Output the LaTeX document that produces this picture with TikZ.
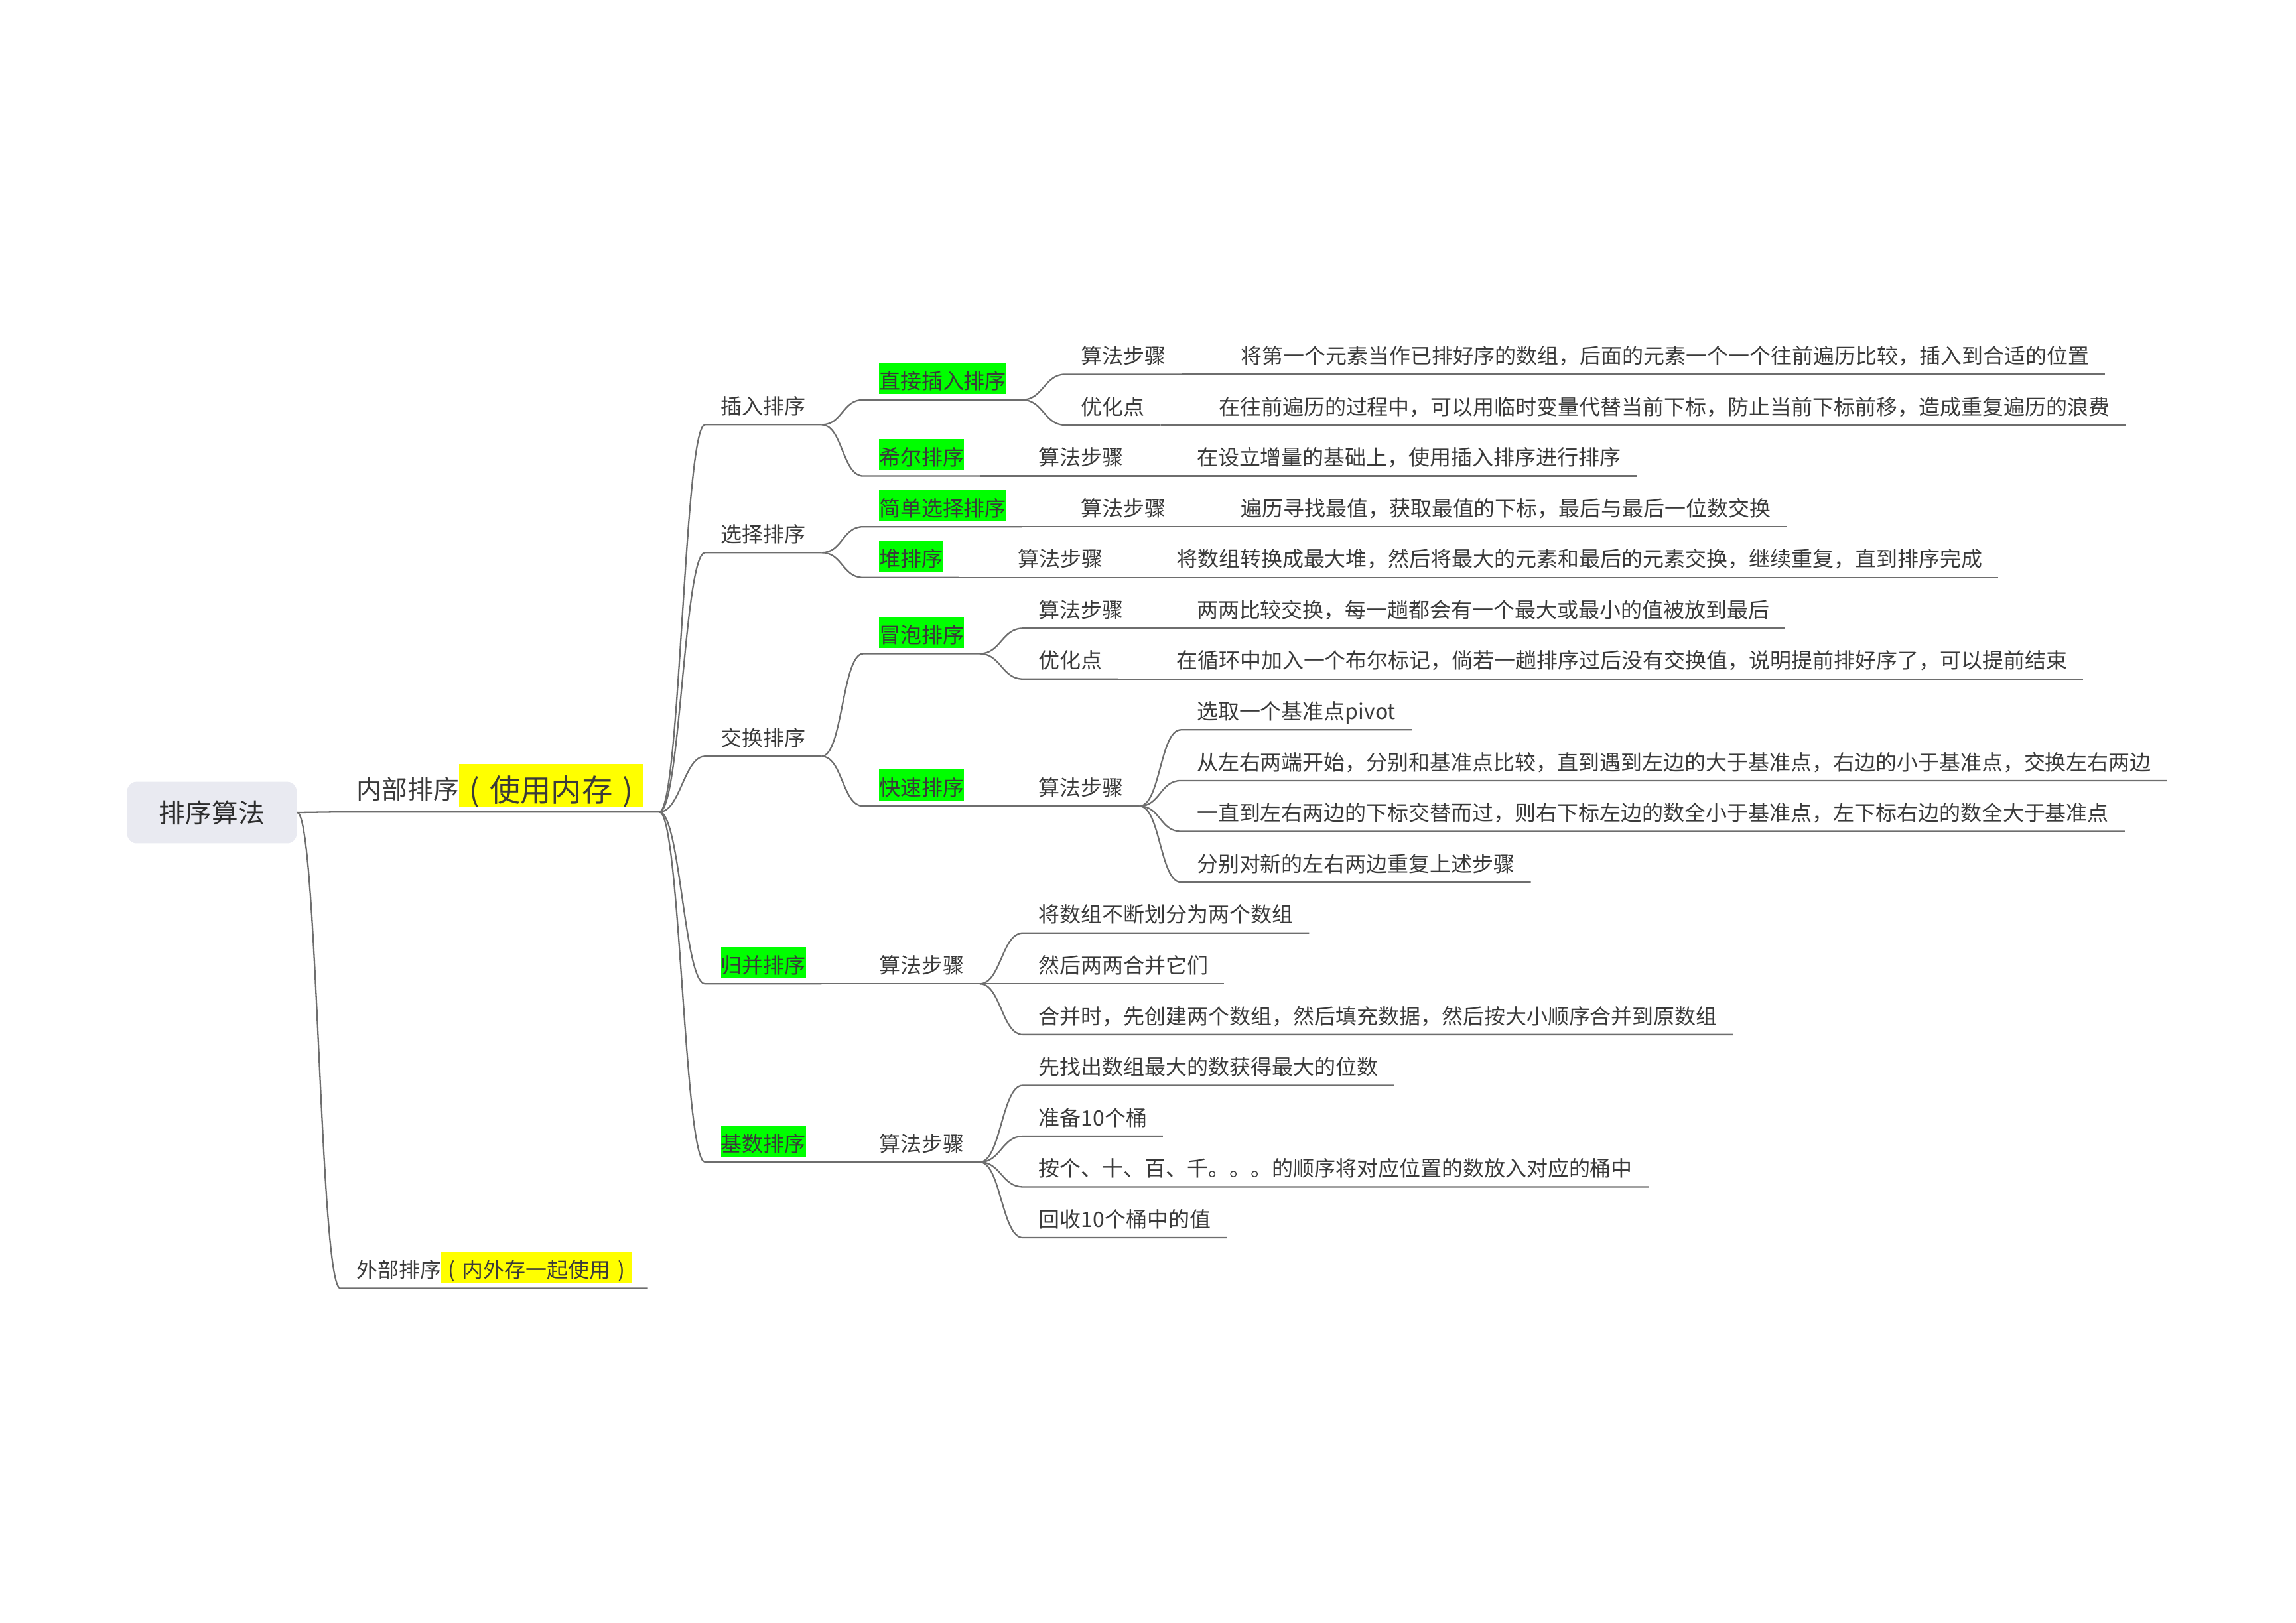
\documentclass[tikz,border=0pt]{standalone}
\usepackage{fontspec}
\setmainfont{Noto Sans CJK SC}

\definecolor{textgray}{RGB}{58,58,58}
\definecolor{linegray}{RGB}{110,110,110}
\definecolor{rootfill}{RGB}{233,234,241}
\definecolor{markgreen}{RGB}{0,255,0}
\definecolor{markyellow}{RGB}{255,255,0}

\newcommand{\leaffont}{\fontsize{9.1pt}{11pt}\selectfont}
\newcommand{\lparen}{\makebox[1em]{(}}
\newcommand{\rparen}{\makebox[1em]{)}}
\newcommand{\greenmark}[1]{{\setlength{\fboxsep}{0pt}\colorbox{markgreen}{\rule[-2.1pt]{0pt}{13.3pt}#1}}}
\newcommand{\yellowmark}[1]{{\setlength{\fboxsep}{0pt}\colorbox{markyellow}{\rule[-2.1pt]{0pt}{13.3pt}#1}}}
\newcommand{\bigyellowmark}[1]{{\setlength{\fboxsep}{0pt}\colorbox{markyellow}{\rule[-1.2pt]{0pt}{17.3pt}\fontsize{13.2pt}{16pt}\selectfont #1}}}

\tikzset{
	topic/.style={anchor=south west, inner xsep=6.6pt, inner ysep=0pt, text depth=4.3pt, font=\leaffont, text=textgray},
	root/.style={fill=rootfill, rounded corners=4pt, minimum width=72.7pt, minimum height=26.4pt, inner sep=0pt, font=\fontsize{11.3pt}{13pt}\selectfont, text=textgray!80!black},
	link/.style={draw=linegray, line width=0.65pt},
	branch/.style={out=0, in=180, distance=9pt}
}

\begin{document}
\begin{tikzpicture}[x=0.022074cm, y=-0.022074cm]
	\useasboundingbox (0,0) rectangle (1568,1108.6);

	% root
	\node[root] (root) at (144.7,555) {排序算法};

	% 内部排序, 外部排序
	\node[topic] (in) at (232.5,554.6) {\raisebox{1pt}{\fontsize{11pt}{13pt}\selectfont 内部排序}\bigyellowmark{\lparen 使用内存\rparen}};
	\node[topic] (ex) at (232.5,880.1) {外部排序\yellowmark{\lparen 内外存一起使用\rparen}};
	\draw[link] (root.east) -- (in.south west) -- (in.south east);
	\draw[link] (root.east) to[branch] (ex.south west) -- (ex.south east);

	% sorts
	\node[topic] (ins) at (481.5,290.1) {插入排序};
	\node[topic] (sel) at (481.5,377.5) {选择排序};
	\node[topic] (swp) at (481.5,516.6) {交换排序};
	\node[topic] (mrg) at (481.5,672.0) {\greenmark{归并排序}};
	\node[topic] (rad) at (481.5,793.8) {\greenmark{基数排序}};
	\draw[link] (in.south east) to[branch] (ins.south west) -- (ins.south east);
	\draw[link] (in.south east) to[branch] (sel.south west) -- (sel.south east);
	\draw[link] (in.south east) to[branch] (swp.south west) -- (swp.south east);
	\draw[link] (in.south east) to[branch] (mrg.south west) -- (mrg.south east);
	\draw[link] (in.south east) to[branch] (rad.south west) -- (rad.south east);

	% 插入排序
	\node[topic] (ins1) at (589.5,273.1) {\greenmark{直接插入排序}};
	\node[topic] (ins2) at (589.5,325.1) {\greenmark{希尔排序}};
	\draw[link] (ins.south east) to[branch] (ins1.south west) -- (ins1.south east);
	\draw[link] (ins.south east) to[branch] (ins2.south west) -- (ins2.south east);

	\node[topic] (ins1a) at (727.5,255.7) {算法步骤};
	\node[topic] (ins1b) at (727.5,290.4) {优化点};
	\node[topic] (ins1a1) at (836.5,255.7) {将第一个元素当作已排好序的数组，后面的元素一个一个往前遍历比较，插入到合适的位置};
	\node[topic] (ins1b1) at (821.5,290.4) {在往前遍历的过程中，可以用临时变量代替当前下标，防止当前下标前移，造成重复遍历的浪费};
	\draw[link] (ins1.south east) to[branch] (ins1a.south west) -- (ins1a.south east);
	\draw[link] (ins1.south east) to[branch] (ins1b.south west) -- (ins1b.south east);
	\draw[link] (ins1a.south east) to[branch] (ins1a1.south west) -- (ins1a1.south east);
	\draw[link] (ins1b.south east) to[branch] (ins1b1.south west) -- (ins1b1.south east);

	\node[topic] (ins2a) at (698.5,325.1) {算法步骤};
	\node[topic] (ins2a1) at (806.5,325.1) {在设立增量的基础上，使用插入排序进行排序};
	\draw[link] (ins2.south east) to[branch] (ins2a.south west) -- (ins2a.south east);
	\draw[link] (ins2a.south east) to[branch] (ins2a1.south west) -- (ins2a1.south east);

	% 选择排序
	\node[topic] (sel1) at (589.5,359.8) {\greenmark{简单选择排序}};
	\node[topic] (sel2) at (589.5,394.5) {\greenmark{堆排序}};
	\draw[link] (sel.south east) to[branch] (sel1.south west) -- (sel1.south east);
	\draw[link] (sel.south east) to[branch] (sel2.south west) -- (sel2.south east);

	\node[topic] (sel1a) at (727.5,359.8) {算法步骤};
	\node[topic] (sel1a1) at (836.5,359.8) {遍历寻找最值，获取最值的下标，最后与最后一位数交换};
	\draw[link] (sel1.south east) to[branch] (sel1a.south west) -- (sel1a.south east);
	\draw[link] (sel1a.south east) to[branch] (sel1a1.south west) -- (sel1a1.south east);

	\node[topic] (sel2a) at (684.5,394.5) {算法步骤};
	\node[topic] (sel2a1) at (792.5,394.5) {将数组转换成最大堆，然后将最大的元素和最后的元素交换，继续重复，直到排序完成};
	\draw[link] (sel2.south east) to[branch] (sel2a.south west) -- (sel2a.south east);
	\draw[link] (sel2a.south east) to[branch] (sel2a1.south west) -- (sel2a1.south east);

	% 交换排序
	\node[topic] (swp1) at (589.5,446.5) {\greenmark{冒泡排序}};
	\node[topic] (swp2) at (589.5,550.6) {\greenmark{快速排序}};
	\draw[link] (swp.south east) to[branch] (swp1.south west) -- (swp1.south east);
	\draw[link] (swp.south east) to[branch] (swp2.south west) -- (swp2.south east);

	\node[topic] (swp1a) at (698.5,429.2) {算法步骤};
	\node[topic] (swp1b) at (698.5,463.8) {优化点};
	\node[topic] (swp1a1) at (806.5,429.2) {两两比较交换，每一趟都会有一个最大或最小的值被放到最后};
	\node[topic] (swp1b1) at (792.5,463.8) {在循环中加入一个布尔标记，倘若一趟排序过后没有交换值，说明提前排好序了，可以提前结束};
	\draw[link] (swp1.south east) to[branch] (swp1a.south west) -- (swp1a.south east);
	\draw[link] (swp1.south east) to[branch] (swp1b.south west) -- (swp1b.south east);
	\draw[link] (swp1a.south east) to[branch] (swp1a1.south west) -- (swp1a1.south east);
	\draw[link] (swp1b.south east) to[branch] (swp1b1.south west) -- (swp1b1.south east);

	\node[topic] (swp2a) at (698.5,550.6) {算法步骤};
	\node[topic] (swp2a1) at (806.5,498.5) {选取一个基准点pivot};
	\node[topic] (swp2a2) at (806.5,533.2) {从左右两端开始，分别和基准点比较，直到遇到左边的大于基准点，右边的小于基准点，交换左右两边};
	\node[topic] (swp2a3) at (806.5,567.9) {一直到左右两边的下标交替而过，则右下标左边的数全小于基准点，左下标右边的数全大于基准点};
	\node[topic] (swp2a4) at (806.5,602.6) {分别对新的左右两边重复上述步骤};
	\draw[link] (swp2.south east) to[branch] (swp2a.south west) -- (swp2a.south east);
	\draw[link] (swp2a.south east) to[branch] (swp2a1.south west) -- (swp2a1.south east);
	\draw[link] (swp2a.south east) to[branch] (swp2a2.south west) -- (swp2a2.south east);
	\draw[link] (swp2a.south east) to[branch] (swp2a3.south west) -- (swp2a3.south east);
	\draw[link] (swp2a.south east) to[branch] (swp2a4.south west) -- (swp2a4.south east);

	% 归并排序
	\node[topic] (mrg1) at (589.5,672.0) {算法步骤};
	\node[topic] (mrg1a) at (698.5,637.3) {将数组不断划分为两个数组};
	\node[topic] (mrg1b) at (698.5,672.0) {然后两两合并它们};
	\node[topic] (mrg1c) at (698.5,706.7) {合并时，先创建两个数组，然后填充数据，然后按大小顺序合并到原数组};
	\draw[link] (mrg.south east) to[branch] (mrg1.south west) -- (mrg1.south east);
	\draw[link] (mrg1.south east) to[branch] (mrg1a.south west) -- (mrg1a.south east);
	\draw[link] (mrg1.south east) to[branch] (mrg1b.south west) -- (mrg1b.south east);
	\draw[link] (mrg1.south east) to[branch] (mrg1c.south west) -- (mrg1c.south east);

	% 基数排序
	\node[topic] (rad1) at (589.5,793.8) {算法步骤};
	\node[topic] (rad1a) at (698.5,741.4) {先找出数组最大的数获得最大的位数};
	\node[topic] (rad1b) at (698.5,776.1) {准备10个桶};
	\node[topic] (rad1c) at (698.5,810.7) {按个、十、百、千。。。的顺序将对应位置的数放入对应的桶中};
	\node[topic] (rad1d) at (698.5,845.4) {回收10个桶中的值};
	\draw[link] (rad.south east) to[branch] (rad1.south west) -- (rad1.south east);
	\draw[link] (rad1.south east) to[branch] (rad1a.south west) -- (rad1a.south east);
	\draw[link] (rad1.south east) to[branch] (rad1b.south west) -- (rad1b.south east);
	\draw[link] (rad1.south east) to[branch] (rad1c.south west) -- (rad1c.south east);
	\draw[link] (rad1.south east) to[branch] (rad1d.south west) -- (rad1d.south east);

\end{tikzpicture}
\end{document}
